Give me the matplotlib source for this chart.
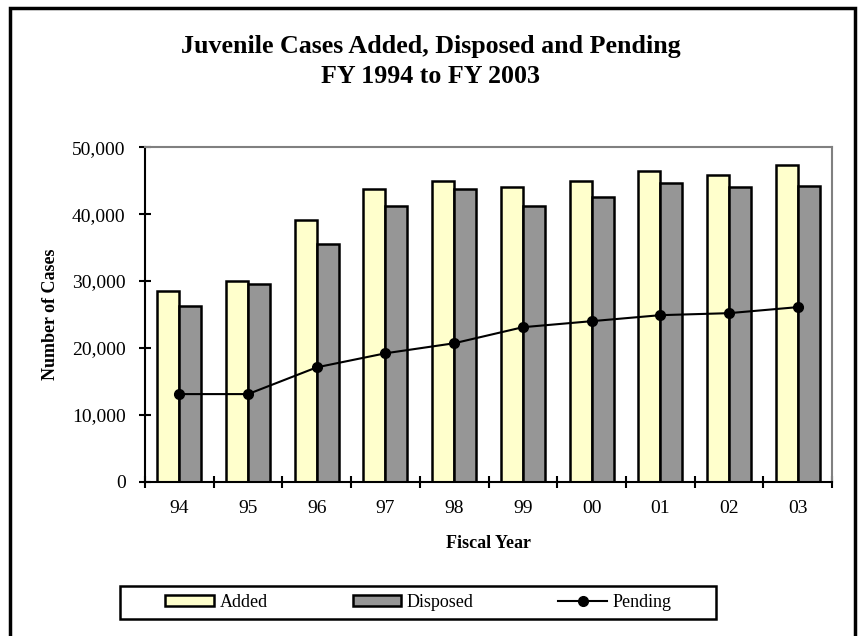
import matplotlib.pyplot as plt
import matplotlib.patches as mpatches
import numpy as np
from matplotlib.ticker import FuncFormatter

plt.rcParams['font.family'] = ['Liberation Serif', 'DejaVu Serif']

years = ['94', '95', '96', '97', '98', '99', '00', '01', '02', '03']
added = [28500, 30000, 39200, 43700, 44900, 44000, 45000, 46400, 45800, 47400]
disposed = [26200, 29600, 35600, 41200, 43700, 41200, 42500, 44600, 44000, 44200]
pending = [13100, 13100, 17100, 19200, 20700, 23100, 24000, 24900, 25200, 26100]

fig = plt.figure(figsize=(8.58, 6.36), dpi=100)
ax = fig.add_axes([0.169, 0.2426, 0.8007, 0.5258])

x = np.arange(len(years))
w = 0.32
b1 = ax.bar(x - w/2, added, w, color='#FFFFCC', edgecolor='black', linewidth=1.8, label='Added', zorder=2)
b2 = ax.bar(x + w/2, disposed, w, color='#969696', edgecolor='black', linewidth=1.8, label='Disposed', zorder=2)
l1, = ax.plot(x, pending, color='black', linewidth=1.5, marker='o', markersize=7, label='Pending', zorder=3)

ax.set_xlim(-0.5, len(years) - 0.5)
ax.set_ylim(0, 50000)
ax.set_yticks(np.arange(0, 50001, 10000))
ax.yaxis.set_major_formatter(FuncFormatter(lambda v, p: f'{int(v):,}'))
ax.set_xticks(x)
ax.set_xticklabels(years)
ax.set_xticks(np.arange(-0.5, len(years), 1), minor=True)
ax.tick_params(axis='x', which='major', length=0, pad=13, labelsize=14)
ax.tick_params(axis='x', which='minor', direction='inout', length=8, width=1.5)
ax.tick_params(axis='y', direction='inout', length=8, width=1.5, pad=10, labelsize=14)

for s in ['top', 'right']:
    ax.spines[s].set_color('#808080')
    ax.spines[s].set_linewidth(1.5)
for s in ['left', 'bottom']:
    ax.spines[s].set_color('black')
    ax.spines[s].set_linewidth(1.5)

ax.set_xlabel('Fiscal Year', fontsize=13, fontweight='bold', labelpad=13)
ax.set_ylabel('Number of Cases', fontsize=13, fontweight='bold', labelpad=9)

fig.text(0.5023, 0.903, 'Juvenile Cases Added, Disposed and Pending\nFY 1994 to FY 2003',
         ha='center', va='center', fontsize=18.7, fontweight='bold', linespacing=1.4)

# outer chart border (bottom edge runs off the picture)
fig.patches.append(mpatches.Rectangle((10/858, -0.05), 845/858, 1.037, transform=fig.transFigure,
                                      fill=False, edgecolor='black', linewidth=2.5))
# legend box
fig.patches.append(mpatches.Rectangle((120/858, 1 - 619/636), 596/858, 33/636, transform=fig.transFigure,
                                      fill=False, edgecolor='black', linewidth=1.8))

leg = fig.legend([b1, b2, l1], ['Added', 'Disposed', 'Pending'], loc='center',
                 bbox_to_anchor=(418.5/858, 0.0527), ncol=3, fontsize=13,
                 frameon=False, handlelength=2.7, handleheight=0.6,
                 handletextpad=0.3, columnspacing=4.7)

fig.savefig('out.png', dpi=100)
